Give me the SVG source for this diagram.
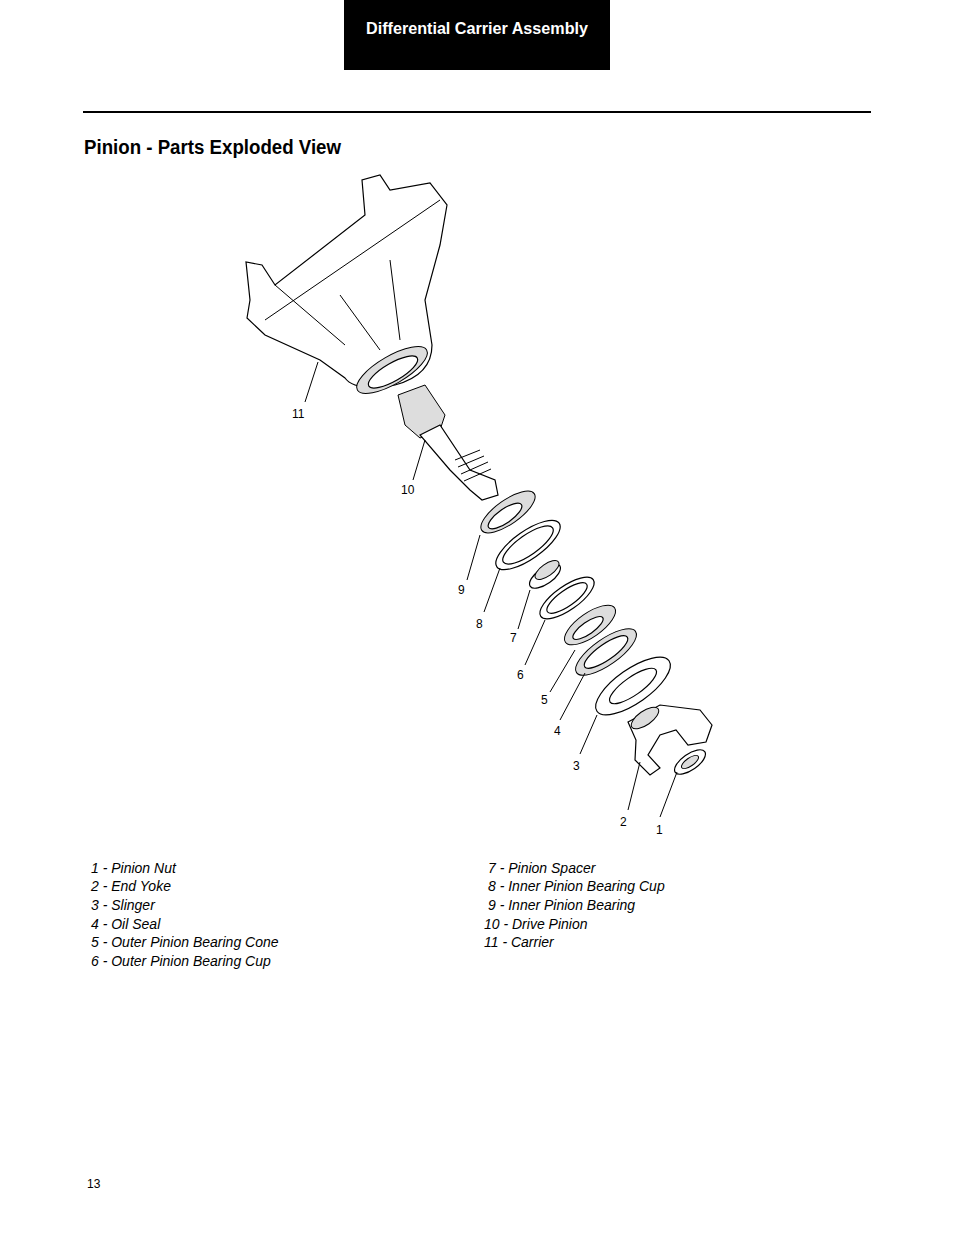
<svg xmlns="http://www.w3.org/2000/svg" width="954" height="1235" viewBox="0 0 954 1235">
<style>
.hd{font-family:"Liberation Sans",Arial,sans-serif;font-weight:bold;font-size:16px;fill:#fff}
.ti{font-family:"Liberation Sans",Arial,sans-serif;font-weight:bold;font-size:20px;fill:#000}
.lg{font-family:"Liberation Sans",Arial,sans-serif;font-style:italic;font-size:14px;fill:#000}
.nm{font-family:"Liberation Sans",Arial,sans-serif;font-size:12px;fill:#000}
.p{fill:#fff;stroke:#000;stroke-width:1.2}
.g{fill:#ddd;stroke:#000;stroke-width:1}
.ld{stroke:#000;stroke-width:1;fill:none}
</style>
<rect width="954" height="1235" fill="#fff"/>
<rect x="344" y="0" width="266" height="70" fill="#000"/>
<text class="hd" x="477" y="34" text-anchor="middle" textLength="222" lengthAdjust="spacingAndGlyphs">Differential Carrier Assembly</text>
<line x1="83" y1="112" x2="871" y2="112" stroke="#000" stroke-width="2"/>
<text class="ti" x="84" y="154" textLength="257" lengthAdjust="spacingAndGlyphs">Pinion - Parts Exploded View</text>

<g id="part11">
<path class="p" d="M247,318 L250,300 L246,262 L262,265 L275,285 L365,215 L362,180 L380,175 L390,190 L430,183 L447,205 L440,245 L425,300 L432,345 Q432,375 395,385 Q355,392 345,378 L320,360 L265,335 Z"/>
<path class="ld" d="M265,320 L440,200 M275,285 L345,345 M340,295 L380,350 M390,260 L400,340"/>
<ellipse class="g" cx="392" cy="370" rx="40" ry="14" transform="rotate(-30 392 370)"/>
<ellipse class="p" cx="393" cy="372" rx="28" ry="9" transform="rotate(-30 393 372)"/>
</g>
<g id="part10">
<path class="g" d="M398,395 L425,385 L445,415 L440,430 L420,438 L405,425 Z"/>
<path class="p" d="M420,435 L440,425 L470,470 L495,480 L498,495 L482,500 L470,490 L450,470 Z"/>
<path class="ld" d="M455,460 L480,450 M458,467 L484,456 M461,474 L488,462 M464,481 L491,469"/>
</g>
<g id="part9"><ellipse class="g" cx="508" cy="512" rx="32" ry="12" transform="rotate(-35 508 512)"/><ellipse class="p" cx="505" cy="516" rx="20" ry="7" transform="rotate(-35 505 516)"/></g>
<g id="part8"><ellipse class="p" cx="528" cy="545" rx="38" ry="14" transform="rotate(-35 528 545)"/><ellipse class="p" cx="528" cy="545" rx="30" ry="10" transform="rotate(-35 528 545)"/></g>
<g id="part7"><ellipse class="p" cx="545" cy="576" rx="18" ry="8" transform="rotate(-35 545 576)"/><ellipse class="g" cx="547" cy="570" rx="14" ry="6" transform="rotate(-35 547 570)"/></g>
<g id="part6"><ellipse class="p" cx="567" cy="598" rx="32" ry="12" transform="rotate(-35 567 598)"/><ellipse class="p" cx="567" cy="598" rx="24" ry="8" transform="rotate(-35 567 598)"/></g>
<g id="part5"><ellipse class="g" cx="590" cy="625" rx="30" ry="12" transform="rotate(-35 590 625)"/><ellipse class="p" cx="588" cy="628" rx="18" ry="6" transform="rotate(-35 588 628)"/></g>
<g id="part4"><ellipse class="g" cx="606" cy="652" rx="36" ry="13" transform="rotate(-35 606 652)"/><ellipse class="p" cx="606" cy="652" rx="26" ry="8" transform="rotate(-35 606 652)"/></g>
<g id="part3"><ellipse class="p" cx="633" cy="686" rx="44" ry="17" transform="rotate(-35 633 686)"/><ellipse class="p" cx="633" cy="686" rx="28" ry="9" transform="rotate(-35 633 686)"/></g>
<g id="part2"><path class="p" d="M628,722 L660,705 L700,710 L712,725 L706,742 L688,745 L676,730 L660,735 L648,755 L660,768 L650,775 L635,760 L636,740 Z"/><ellipse class="g" cx="645" cy="718" rx="16" ry="7" transform="rotate(-35 645 718)"/></g>
<g id="part1"><ellipse class="p" cx="690" cy="762" rx="18" ry="8" transform="rotate(-35 690 762)"/><ellipse class="g" cx="690" cy="762" rx="10" ry="4" transform="rotate(-35 690 762)"/></g>

<g id="connectors">
<path class="ld" d="M305,402 L318,362 M413,480 L425,440 M467,580 L480,535 M484,612 L500,568 M518,629 L530,590 M525,665 L545,620 M550,692 L575,650 M560,720 L585,673 M580,754 L597,715 M628,810 L640,762 M660,817 L677,772"/>
</g>
<g class="nm">
<text x="292" y="418">11</text><text x="401" y="494">10</text><text x="458" y="594">9</text><text x="476" y="628">8</text><text x="510" y="642">7</text><text x="517" y="679">6</text><text x="541" y="704">5</text><text x="554" y="735">4</text><text x="573" y="770">3</text><text x="620" y="826">2</text><text x="656" y="834">1</text>
</g>
<g class="lg">
<text x="91" y="873">1 - Pinion Nut</text><text x="91" y="891">2 - End Yoke</text><text x="91" y="910">3 - Slinger</text><text x="91" y="929">4 - Oil Seal</text><text x="91" y="947">5 - Outer Pinion Bearing Cone</text><text x="91" y="966">6 - Outer Pinion Bearing Cup</text>
<text x="488" y="873">7 - Pinion Spacer</text><text x="488" y="891">8 - Inner Pinion Bearing Cup</text><text x="488" y="910">9 - Inner Pinion Bearing</text><text x="484" y="929">10 - Drive Pinion</text><text x="484" y="947">11 - Carrier</text>
</g>
<text class="nm" x="87" y="1188" font-size="13">13</text>
</svg>
